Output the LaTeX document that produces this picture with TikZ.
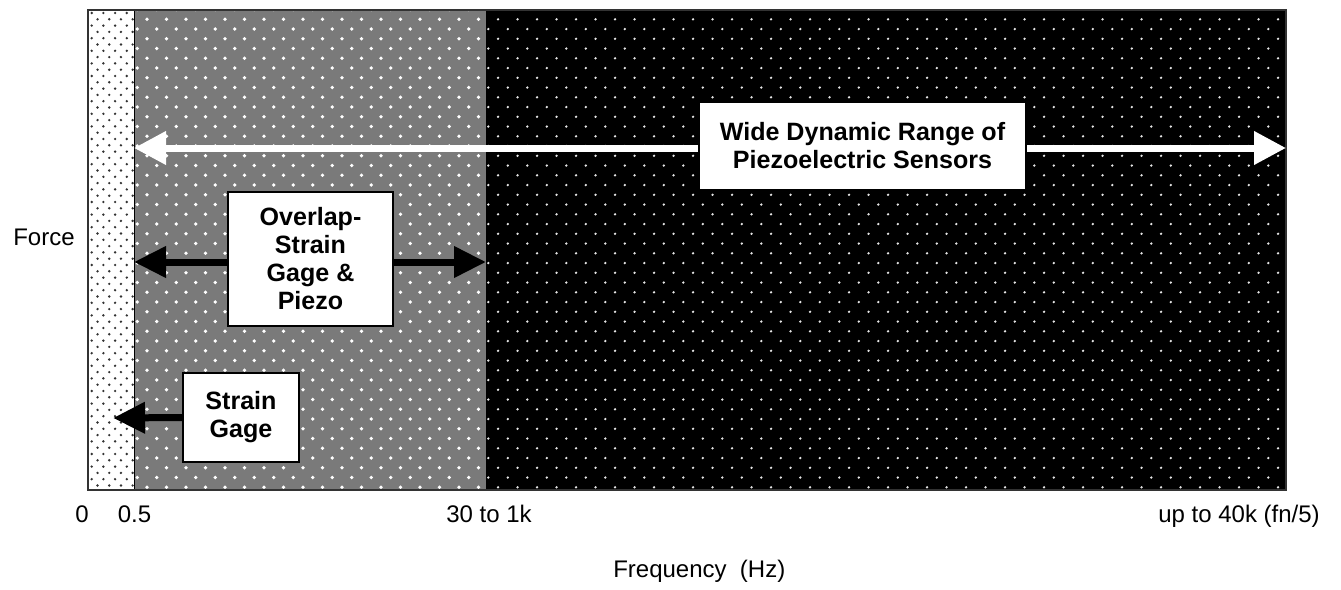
\documentclass[tikz,border=0pt]{standalone}
\usepackage{fontspec}
\setmainfont{Liberation Sans}
\usetikzlibrary{arrows.meta}

\begin{document}
\begin{tikzpicture}[
    x=0.75pt, y=-0.75pt,
    txtbox/.style={draw, line width=0.8pt, fill=white, align=center, inner sep=0pt,
        font=\fontsize{18.8}{21}\selectfont\bfseries},
    axlabel/.style={font=\fontsize{18}{21}\selectfont, inner sep=0pt},
    wharrow/.style={{Triangle[length=24pt,width=24pt]}-{Triangle[length=24pt,width=24pt]},
        white, line width=5.25pt},
    bkarrow/.style={-{Triangle[length=24pt,width=22.5pt]}, black, line width=5.25pt},
    bkdarrow/.style={{Triangle[length=24pt,width=22.5pt]}-{Triangle[length=24pt,width=22.5pt]},
        black, line width=5.25pt}
]
    \useasboundingbox (0,0) rectangle (1341,589);

    % Frequency bands
    \fill[white] (88,10) rectangle (134,490);
    \fill[black!52] (134,10) rectangle (486,490);
    \fill[black] (486,10) rectangle (1286,490);

    % Dots of the strain gage band
    \begin{scope}
        \clip (88,10) rectangle (134,490);
        \foreach \j [evaluate=\j as \yy using {13+6.3*\j},
                     evaluate=\j as \xs using {91.7+5.85*mod(\j,2)}] in {0,...,76}
            \foreach \i in {0,...,3}
                \fill[black!80] (\xs+11.7*\i,\yy) circle[radius=1pt];
    \end{scope}

    % Dots of the overlap band
    \begin{scope}
        \clip (134,10) rectangle (486,490);
        \foreach \j [evaluate=\j as \yy using {9.55+9.75*\j},
                     evaluate=\j as \xs using {117.8+9.75*mod(\j,2)}] in {0,...,49}
            \foreach \i in {0,...,18}
                \fill[white] (\xs+19.5*\i,\yy) circle[radius=1.4pt];
    \end{scope}

    % Dots of the piezo band
    \begin{scope}
        \clip (486,10) rectangle (1286,490);
        \foreach \j [evaluate=\j as \yy using {9.55+9.75*\j},
                     evaluate=\j as \xs using {117.8+9.75*mod(\j,2)}] in {0,...,49}
            \foreach \i in {19,...,60}
                \fill[white!90!black] (\xs+19.5*\i,\yy) circle[radius=1pt];
    \end{scope}

    % Frame
    \draw[line width=0.6pt] (134,10) -- (134,490);
    \draw[line width=1pt, black!80] (88,10) rectangle (1286,490);

    % Range ends
    \coordinate (pzlo) at (134,148);
    \coordinate (pzhi) at (1286,148);
    \coordinate (ovlo) at (134,262);
    \coordinate (ovhi) at (486,262);
    \coordinate (sglo) at (113,418);

    % Arrows
    \draw[wharrow] (pzlo) -- (pzhi);
    \draw[bkdarrow] (ovlo) -- (ovhi);

    % Boxes
    \node[txtbox, minimum width=245.25pt, minimum height=66pt] (piezo) at (862.5,146)
        {Wide Dynamic Range of\\Piezoelectric Sensors};
    \node[txtbox, minimum width=123.75pt, minimum height=100.5pt] (overlap) at (310.5,259)
        {Overlap-\\Strain\\Gage \&\\Piezo};
    \node[txtbox, minimum width=87pt, minimum height=66.75pt] (strain) at (241,417.5)
        {Strain\\Gage};

    \draw[bkarrow] (strain.west) -- (sglo);

    % Axis labels
    \node[axlabel, anchor=base west] (force) at (13,245) {Force};
    \node[axlabel, anchor=base] (t0) at (82,522) {0};
    \node[axlabel, anchor=base] (t1) at (134.5,522) {0.5};
    \node[axlabel, anchor=base] (t2) at (489,522) {30 to 1k};
    \node[axlabel, anchor=base] (t3) at (1239,522) {up to 40k (fn/5)};
    \node[axlabel, anchor=base west] (freq) at (613,577) {Frequency~~(Hz)};
\end{tikzpicture}
\end{document}
